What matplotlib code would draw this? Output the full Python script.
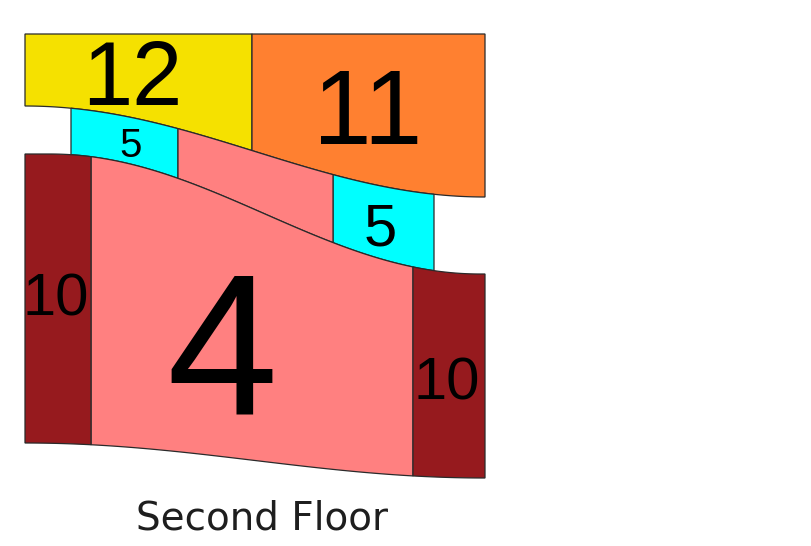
import numpy as np
import matplotlib
matplotlib.use("Agg")
import matplotlib.pyplot as plt
from matplotlib.patches import Polygon

# ---- floor-plan data (plan units = pixels of the drawing) ----
# boundary curves: (x where bend starts, x where bend ends, y at start, y at end)
boundary_names = ["top", "c1", "c2", "c3"]
boundary_xa = [25, 25, 50, 25]
boundary_xb = [485, 485, 480, 485]
boundary_ya = [34, 106, 154, 443]
boundary_yb = [34, 197, 274, 478]

# room pieces
part_room = ["12", "11", "5", "5", "4", "4", "10", "10"]
part_x0 = [25, 252, 71, 333, 178, 91, 25, 413]
part_x1 = [252, 485, 178, 434, 333, 413, 91, 485]
part_top = ["top", "top", "c1", "c1", "c1", "c2", "c2", "c2"]
part_bottom = ["c1", "c1", "c2", "c2", "c2", "c3", "c3", "c3"]

room_names = ["12", "11", "5", "4", "10"]
room_colors = ["#F5E100", "#FF8030", "#00FFFF", "#FF8080", "#961A1E"]

# room labels
label_text = ["12", "11", "5", "5", "4", "10", "10"]
label_x = [132, 368, 131, 380, 222, 56, 447]
label_base = [105, 144, 157, 246, 413, 315, 400]
label_size = [65, 76, 29, 43, 144, 43, 43]

title_text = "Second Floor"

# ---- drawing ----
bnd = {n: (xa, xb, ya, yb) for n, xa, xb, ya, yb in
       zip(boundary_names, boundary_xa, boundary_xb, boundary_ya, boundary_yb)}
col = dict(zip(room_names, room_colors))


def boundary(name, xs):
    xa, xb, ya, yb = bnd[name]
    t = np.clip((xs - xa) / (xb - xa), 0, 1)
    s = (1 - np.cos(np.pi * t)) / 2
    return ya + (yb - ya) * s


fig = plt.figure(figsize=(8.11, 5.46), dpi=100)
ax = fig.add_axes([0, 0, 1, 1])
ax.set_xlim(0, 811)
ax.set_ylim(546, 0)
ax.axis("off")

for r, x0, x1, tp, bt in zip(part_room, part_x0, part_x1, part_top, part_bottom):
    xs = np.linspace(x0, x1, 80)
    up = boundary(tp, xs)
    lo = boundary(bt, xs)
    pts = np.column_stack([np.concatenate([xs, xs[::-1]]),
                           np.concatenate([up, lo[::-1]])])
    ax.add_patch(Polygon(pts, closed=True, facecolor=col[r],
                         edgecolor="#2a2a2a", linewidth=0.9))

for t, x, y, s in zip(label_text, label_x, label_base, label_size):
    ax.text(x, y, t, ha="center", va="baseline", fontsize=s,
            family="Liberation Sans", color="black")

ax.text(262, 529, title_text, ha="center", va="baseline", fontsize=28,
        family="DejaVu Sans", color="#1e1e1e")

fig.savefig("out.png", dpi=100)
